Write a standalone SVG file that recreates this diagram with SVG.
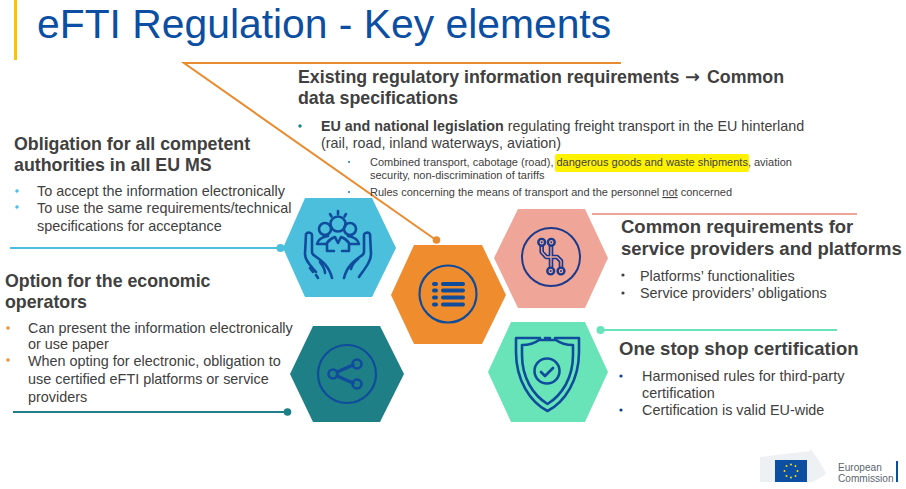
<svg xmlns="http://www.w3.org/2000/svg" width="906" height="489" viewBox="0 0 906 489">
<style>
text{font-family:"Liberation Sans",Arial,sans-serif;fill:#404040}
.h{font-size:17.8px;font-weight:bold}
.hr{font-size:18.5px;font-weight:bold}
.b{font-size:14.4px}
.m{font-size:14.3px}
.s{font-size:11px}
.ic{fill:none;stroke:#0f4c9c;stroke-width:2.6;stroke-linecap:round;stroke-linejoin:round}
.lb{stroke-width:3.4}
</style>
<rect width="906" height="489" fill="#fff"/>
<rect x="14" y="0" width="3" height="60" fill="#fdc300"/>
<text x="37" y="37.500" style="font-size:40.85px;fill:#0b4ea2">eFTI Regulation - Key elements</text>

<g id="connectors" fill="none">
<path d="M621 63H184L436 240" stroke="#e98b2f" stroke-width="2"/><circle cx="436.500" cy="240" r="3.800" fill="#e98b2f"/>
<path d="M10 248H280" stroke="#4bbfdc" stroke-width="2"/><circle cx="280.500" cy="248" r="4" fill="#4bbfdc"/>
<path d="M592 214H857" stroke="#eea698" stroke-width="2"/>
<path d="M600 330H837" stroke="#69e4b9" stroke-width="2"/><circle cx="600.500" cy="330" r="4" fill="#69e4b9"/>
<path d="M13 412H287" stroke="#1e7f86" stroke-width="2"/><circle cx="287.500" cy="412" r="3.800" fill="#1e7f86"/>
</g>

<g id="node-existing">
<text class="h" x="298" y="83">Existing regulatory information requirements <tspan x="685" style="font-family:'DejaVu Sans',sans-serif">→</tspan><tspan x="707">Common</tspan></text>
<text class="h" x="298" y="104">data specifications</text>
<circle cx="300" cy="126" r="1.700" fill="#1e7f86"/>
<text class="m" x="321" y="131"><tspan font-weight="bold">EU and national legislation</tspan> regulating freight transport in the EU hinterland</text>
<text class="m" x="321" y="148">(rail, road, inland waterways, aviation)</text>
<rect x="555" y="154" width="194" height="18" fill="#fff200" rx="2"/>
<circle cx="349" cy="162" r="1" fill="#1e7f86"/>
<text class="s" x="370" y="166">Combined transport, cabotage (road), dangerous goods and waste shipments, aviation</text>
<text class="s" x="370" y="179">security, non-discrimination of tariffs</text>
<circle cx="349" cy="192" r="1" fill="#1e7f86"/>
<text class="s" x="370" y="196">Rules concerning the means of transport and the personnel <tspan text-decoration="underline">not</tspan> concerned</text>
</g>

<g id="node-authorities">
<text class="h" x="14" y="150">Obligation for all competent</text>
<text class="h" x="14" y="171">authorities in all EU MS</text>
<circle cx="17" cy="191" r="1.700" fill="#4bbfdc"/><circle cx="17" cy="207" r="1.700" fill="#4bbfdc"/>
<text class="b" x="37" y="196">To accept the information electronically</text>
<text class="b" x="37" y="213">To use the same requirements/technical</text>
<text class="b" x="37" y="231">specifications for acceptance</text>
<polygon points="283,248 305,198 372,198 396,248 372,297 305,297" fill="#4bbfdc"/>
<g class="ic">
<circle cx="338" cy="224" r="7.500"/><circle cx="325" cy="229" r="6"/><circle cx="350" cy="229" r="6"/>
<path d="M317 244c1-5 5-7 11-8M359 244c-1-5-5-7-11-8M317 244h8M351 244h8M327 251v-8c2-3 5-5 8-6l3 6 3-6c3 1 6 3 8 6v8M327 251h7M342 251h7"/>
<path d="M338 211v3M330 214l1.500 2.500M346 214l-1.500 2.500"/>
<path d="M307 233c2-1 5 0 5 2v17c0 2 1 3 3 4 7 5 14 10 17 22M306 234l-1 20c0 7 6 12 11 18M320 262c2 3 5 6 5 11M310 268l3 4M316 275l2 3"/>
<path d="M369 233c-2-1-5 0-5 2v17c0 2-1 3-3 4-7 5-14 10-17 22M370 234l1 20c0 7-5 13-12 23M358 259c-4 3-6 6-7 10"/>
</g>
</g>

<g id="node-regulatory">
<polygon points="391,295 414,245 482,245 506,295 482,344 414,344" fill="#ee8c2e"/>
<circle cx="448" cy="294" r="28.500" fill="none" stroke="#0f4c9c" stroke-width="2.200"/>
<g fill="#0f4c9c">
<rect x="432" y="282" width="6" height="4" rx="2"/><rect x="441" y="282" width="24" height="4" rx="2"/>
<rect x="432" y="288.500" width="6" height="4" rx="2"/><rect x="441" y="288.500" width="24" height="4" rx="2"/>
<rect x="432" y="295.500" width="6" height="4" rx="2"/><rect x="441" y="295.500" width="24" height="4" rx="2"/>
<rect x="432" y="302.500" width="6" height="4" rx="2"/><rect x="441" y="302.500" width="24" height="4" rx="2"/>
</g>
</g>

<g id="node-requirements">
<polygon points="494,258 518,209 585,209 608,258 585,308 518,308" fill="#efa698"/>
<circle cx="551" cy="257" r="29" fill="none" stroke="#1b3a8c" stroke-width="2"/>
<g fill="none" stroke-linejoin="round">
<path d="M541.700 246V252l4.500 5H551M551 246V267M551 257h6l4 4v6" stroke="#1b3a8c" stroke-width="4.600"/>
<path d="M541.700 246V252l4.500 5H551M551 246V267M551 257h6l4 4v6" stroke="#efa698" stroke-width="1.300"/>
<g stroke="#1b3a8c" stroke-width="2.400" fill="#efa698"><circle cx="541.700" cy="242.300" r="3.400"/><circle cx="551.300" cy="242.300" r="3.400"/><circle cx="550.700" cy="271" r="3.400"/><circle cx="561" cy="271" r="3.400"/></g>
<g fill="#1b3a8c"><circle cx="541.700" cy="242.300" r="1"/><circle cx="551.300" cy="242.300" r="1"/><circle cx="550.700" cy="271" r="1"/><circle cx="561" cy="271" r="1"/></g>
</g>
</g>

<g id="node-operators">
<text class="h" x="5" y="287">Option for the economic</text>
<text class="h" x="5" y="308">operators</text>
<circle cx="8" cy="328" r="1.700" fill="#ee8c2e"/><circle cx="8" cy="360" r="1.700" fill="#ee8c2e"/>
<text class="b" x="28" y="333">Can present the information electronically</text>
<text class="b" x="28" y="349">or use paper</text>
<text class="b" x="28" y="366">When opting for electronic, obligation to</text>
<text class="b" x="28" y="384">use certified eFTI platforms or service</text>
<text class="b" x="28" y="402">providers</text>
<polygon points="290,374 313,326 380,326 404,374 380,422 313,422" fill="#1e7f86"/>
<circle cx="347" cy="374" r="29" fill="none" stroke="#0f4c9c" stroke-width="2.200"/>
<g class="ic"><circle cx="333" cy="374" r="4.500"/><circle cx="357" cy="364" r="4.500"/><circle cx="357" cy="384" r="4.500"/><path class="lb" d="M337 372l16-7M337 376l16 7"/></g>
</g>

<g id="node-certification">
<polygon points="488,372 511,322 585,322 608,372 585,422 511,422" fill="#69e4b9"/>
<g class="ic">
<path d="M540 338H516V352C516 380 530 402 547.500 411C565 402 579 380 579 352V338H555M545 338h5"/>
<path d="M522 345C530 345 535 343 539 340H556C560 343 565 345 573 345V355C573 378 562 395 547.500 404C533 395 522 378 522 355Z"/>
<circle cx="547" cy="371" r="12.500"/>
<path d="M541 372l4 4 8-8" stroke-width="2.800"/>
</g>
</g>

<g id="text-requirements">
<text class="hr" x="621" y="233">Common requirements for</text>
<text class="hr" x="621" y="255">service providers and platforms</text>
<circle cx="623" cy="275" r="1.600" fill="#404040"/><circle cx="623" cy="293" r="1.600" fill="#404040"/>
<text class="b" x="640" y="281">Platforms’ functionalities</text>
<text class="b" x="640" y="298">Service providers’ obligations</text>
</g>
<g id="text-certification">
<text class="hr" x="619" y="355">One stop shop certification</text>
<circle cx="621" cy="376" r="1.600" fill="#0b3d91"/><circle cx="621" cy="410" r="1.600" fill="#0b3d91"/>
<text class="b" x="642" y="381">Harmonised rules for third-party</text>
<text class="b" x="642" y="398">certification</text>
<text class="b" x="642" y="415">Certification is valid EU-wide</text>
</g>

<g id="logo">
<path d="M760 457l50-6v-3c4 6 10 12 16 26l-13 8h-53Z" fill="#eef1f3"/>
<rect x="775" y="460" width="32" height="22" fill="#0b4ea2"/>
<g fill="#ffdd00"><circle cx="791" cy="464.500" r="1"/><circle cx="795.500" cy="466" r="1"/><circle cx="797.500" cy="471" r="1"/><circle cx="795.500" cy="476" r="1"/><circle cx="791" cy="477.500" r="1"/><circle cx="786.500" cy="476" r="1"/><circle cx="784.500" cy="471" r="1"/><circle cx="786.500" cy="466" r="1"/></g>
<text x="838" y="471" style="font-size:10.1px;fill:#5a6670">European</text>
<text x="838" y="482" style="font-size:10.1px;fill:#5a6670">Commission</text>
<rect x="896" y="461" width="2" height="21" fill="#0b4ea2"/>
</g>
</svg>
